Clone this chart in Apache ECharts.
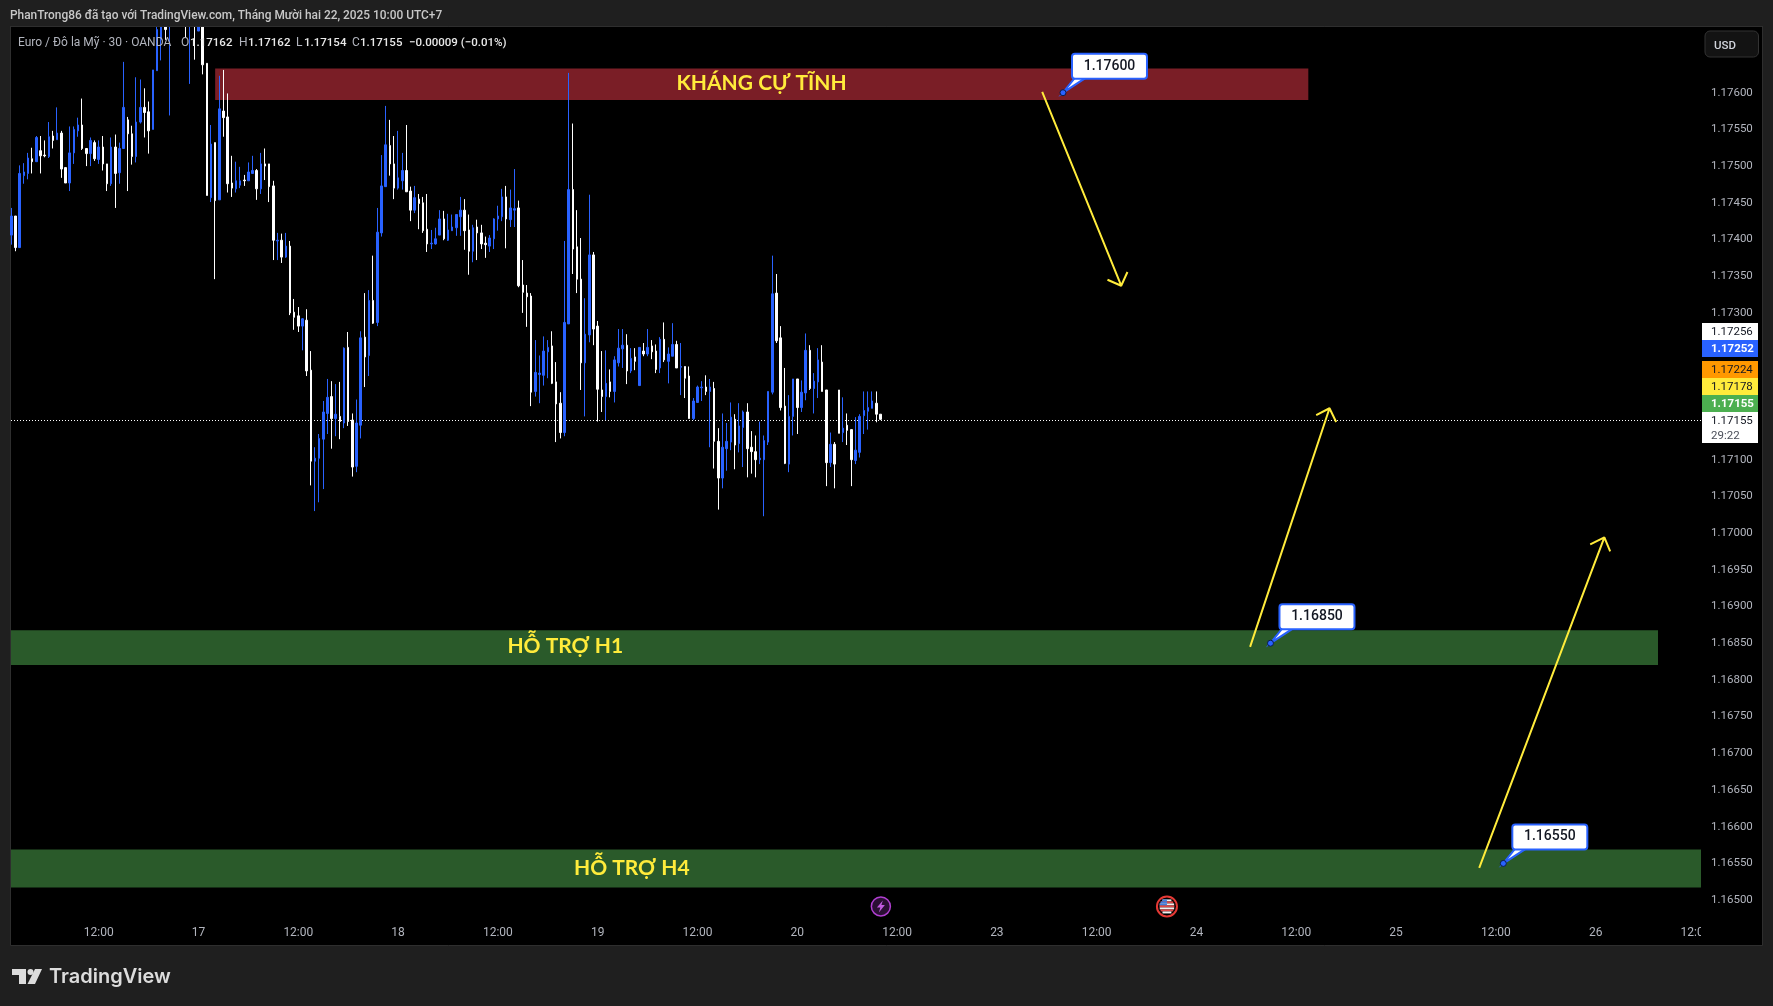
<!DOCTYPE html>
<html>
<head>
<meta charset="utf-8">
<title>Euro / Đô la Mỹ</title>
<script src="https://cdn.jsdelivr.net/npm/echarts@6/dist/echarts.min.js"></script>
<style>
  html, body { margin: 0; padding: 0; background: #1f1f1f; }
  #main { width: 1773px; height: 1006px; }
</style>
</head>
<body>
<div id="main"></div>
<script>
// 30 min candles. slot = half hours since Dec 16 00:00
var firstSlot = 3;
var opens = [
1.17406,1.17432,1.17389,1.17487,1.17490,1.17510,1.17506,1.17521,1.17515,1.17513,
1.17541,1.17536,1.17545,1.17498,1.17477,1.17518,1.17548,1.17556,1.17524,1.17517,
1.17532,1.17509,1.17526,1.17503,1.17476,1.17526,1.17491,1.17524,1.17563,1.17544,
1.17513,1.17560,1.17580,1.17574,1.17550,1.17630,1.17672,1.17690,1.17705,1.17725,
1.17740,1.17722,1.17715,1.17700,1.17715,1.17684,1.17705,1.17640,1.17457,1.17532,
1.17454,1.17575,1.17567,1.17477,1.17469,1.17474,1.17481,1.17480,1.17490,1.17494,
1.17469,1.17503,1.17503,1.17473,1.17398,1.17399,1.17376,1.17391,1.17301,1.17296,
1.17282,1.17290,1.17222,1.17098,1.17102,1.17128,1.17163,1.17186,1.17156,1.17159,
1.17150,1.17253,1.17154,1.17091,1.17147,1.17267,1.17242,1.17317,1.17287,1.17409,
1.17472,1.17528,1.17503,1.17470,1.17480,1.17494,1.17466,1.17440,1.17455,1.17450,
1.17414,1.17394,1.17394,1.17406,1.17428,1.17399,1.17412,1.17416,1.17431,1.17440,
1.17413,1.17384,1.17417,1.17409,1.17395,1.17391,1.17401,1.17428,1.17431,1.17458,
1.17427,1.17440,1.17443,1.17338,1.17327,1.17323,1.17193,1.17216,1.17215,1.17247,
1.17255,1.17206,1.17177,1.17137,1.17285,1.17468,1.17390,1.17346,1.17232,1.17270,
1.17379,1.17282,1.17195,1.17186,1.17206,1.17193,1.17232,1.17251,1.17256,1.17221,
1.17240,1.17201,1.17248,1.17244,1.17255,1.17248,1.17225,1.17264,1.17234,1.17241,
1.17257,1.17226,1.17227,1.17214,1.17156,1.17178,1.17198,1.17199,1.17193,1.17197,
1.17125,1.17075,1.17115,1.17124,1.17155,1.17122,1.17144,1.17165,1.17117,1.17111,
1.17100,1.17100,1.17124,1.17192,1.17327,1.17266,1.17173,1.17094,1.17159,1.17210,
1.17171,1.17191,1.17249,1.17197,1.17206,1.17233,1.17195,1.17096,1.17121,1.17195,
1.17137,1.17147,1.17141,1.17099,1.17110,1.17160,1.17166,1.17170,1.17177,1.17162
];
var closes = [
1.17432,1.17389,1.17490,1.17492,1.17511,1.17506,1.17539,1.17514,1.17514,1.17540,
1.17535,1.17545,1.17496,1.17477,1.17518,1.17550,1.17556,1.17524,1.17517,1.17535,
1.17510,1.17526,1.17503,1.17476,1.17526,1.17490,1.17524,1.17580,1.17544,1.17513,
1.17560,1.17580,1.17573,1.17548,1.17631,1.17686,1.17695,1.17686,1.17725,1.17740,
1.17722,1.17710,1.17700,1.17715,1.17700,1.17700,1.17638,1.17460,1.17530,1.17453,
1.17578,1.17566,1.17476,1.17470,1.17480,1.17480,1.17480,1.17492,1.17494,1.17469,
1.17503,1.17500,1.17472,1.17399,1.17399,1.17376,1.17391,1.17300,1.17294,1.17282,
1.17292,1.17221,1.17098,1.17102,1.17129,1.17165,1.17185,1.17156,1.17162,1.17152,
1.17252,1.17152,1.17090,1.17150,1.17266,1.17240,1.17317,1.17286,1.17410,1.17473,
1.17529,1.17503,1.17470,1.17484,1.17494,1.17465,1.17440,1.17457,1.17449,1.17412,
1.17394,1.17395,1.17401,1.17428,1.17401,1.17413,1.17417,1.17434,1.17440,1.17412,
1.17384,1.17416,1.17409,1.17394,1.17393,1.17402,1.17428,1.17432,1.17458,1.17428,
1.17443,1.17442,1.17337,1.17328,1.17322,1.17192,1.17219,1.17218,1.17248,1.17253,
1.17204,1.17176,1.17137,1.17287,1.17468,1.17387,1.17346,1.17232,1.17271,1.17379,
1.17278,1.17196,1.17186,1.17204,1.17193,1.17236,1.17252,1.17256,1.17221,1.17238,
1.17234,1.17253,1.17244,1.17253,1.17247,1.17223,1.17264,1.17236,1.17244,1.17257,
1.17225,1.17227,1.17211,1.17156,1.17180,1.17199,1.17199,1.17193,1.17199,1.17125,
1.17075,1.17117,1.17125,1.17158,1.17120,1.17146,1.17165,1.17115,1.17111,1.17100,
1.17102,1.17126,1.17193,1.17326,1.17262,1.17171,1.17095,1.17159,1.17210,1.17171,
1.17192,1.17249,1.17197,1.17207,1.17236,1.17193,1.17096,1.17121,1.17094,1.17136,
1.17143,1.17140,1.17100,1.17113,1.17159,1.17167,1.17171,1.17180,1.17162,1.17155
];
var lows = [
1.17393,1.17384,1.17389,1.17476,1.17482,1.17490,1.17506,1.17490,1.17512,1.17511,
1.17524,1.17536,1.17484,1.17477,1.17466,1.17503,1.17540,1.17522,1.17500,1.17500,
1.17507,1.17503,1.17494,1.17466,1.17473,1.17443,1.17476,1.17524,1.17466,1.17502,
1.17505,1.17558,1.17539,1.17517,1.17550,1.17630,1.17644,1.17672,1.17569,1.17705,
1.17715,1.17700,1.17675,1.17612,1.17645,1.17684,1.17625,1.17460,1.17451,1.17346,
1.17454,1.17540,1.17464,1.17458,1.17464,1.17470,1.17473,1.17480,1.17490,1.17454,
1.17462,1.17481,1.17451,1.17372,1.17372,1.17368,1.17375,1.17297,1.17277,1.17274,
1.17249,1.17214,1.17065,1.17030,1.17042,1.17060,1.17135,1.17115,1.17132,1.17128,
1.17143,1.17146,1.17077,1.17083,1.17129,1.17199,1.17214,1.17285,1.17282,1.17404,
1.17472,1.17487,1.17455,1.17468,1.17468,1.17465,1.17425,1.17436,1.17414,1.17409,
1.17383,1.17387,1.17393,1.17406,1.17399,1.17398,1.17412,1.17405,1.17405,1.17386,
1.17352,1.17369,1.17372,1.17387,1.17375,1.17383,1.17387,1.17412,1.17425,1.17388,
1.17417,1.17417,1.17335,1.17300,1.17281,1.17173,1.17186,1.17177,1.17201,1.17211,
1.17203,1.17124,1.17129,1.17132,1.17285,1.17353,1.17327,1.17195,1.17159,1.17260,
1.17256,1.17152,1.17165,1.17154,1.17185,1.17178,1.17227,1.17225,1.17203,1.17218,
1.17222,1.17201,1.17241,1.17241,1.17237,1.17218,1.17218,1.17233,1.17204,1.17241,
1.17225,1.17188,1.17184,1.17156,1.17154,1.17178,1.17180,1.17188,1.17117,1.17088,
1.17032,1.17061,1.17085,1.17113,1.17087,1.17110,1.17090,1.17076,1.17081,1.17076,
1.17094,1.17023,1.17120,1.17189,1.17259,1.17167,1.17094,1.17083,1.17133,1.17135,
1.17165,1.17181,1.17195,1.17163,1.17184,1.17193,1.17064,1.17090,1.17061,1.17136,
1.17124,1.17120,1.17064,1.17094,1.17103,1.17135,1.17141,1.17170,1.17151,1.17154
];
var highs = [
1.17443,1.17432,1.17501,1.17504,1.17518,1.17525,1.17541,1.17541,1.17535,1.17560,
1.17548,1.17580,1.17548,1.17498,1.17554,1.17554,1.17566,1.17592,1.17524,1.17539,
1.17535,1.17535,1.17541,1.17503,1.17539,1.17543,1.17532,1.17642,1.17567,1.17555,
1.17621,1.17618,1.17606,1.17588,1.17631,1.17700,1.17700,1.17697,1.17735,1.17750,
1.17750,1.17735,1.17725,1.17725,1.17722,1.17710,1.17712,1.17640,1.17556,1.17532,
1.17623,1.17631,1.17599,1.17514,1.17506,1.17499,1.17488,1.17505,1.17514,1.17496,
1.17518,1.17524,1.17503,1.17480,1.17409,1.17408,1.17409,1.17398,1.17319,1.17308,
1.17293,1.17305,1.17248,1.17117,1.17135,1.17180,1.17210,1.17207,1.17203,1.17206,
1.17253,1.17274,1.17163,1.17182,1.17275,1.17327,1.17331,1.17378,1.17443,1.17515,
1.17582,1.17563,1.17541,1.17548,1.17518,1.17556,1.17472,1.17473,1.17462,1.17458,
1.17462,1.17413,1.17416,1.17440,1.17439,1.17435,1.17434,1.17434,1.17458,1.17455,
1.17434,1.17420,1.17427,1.17420,1.17404,1.17406,1.17429,1.17446,1.17469,1.17473,
1.17468,1.17496,1.17453,1.17372,1.17338,1.17327,1.17263,1.17242,1.17268,1.17263,
1.17275,1.17233,1.17192,1.17398,1.17627,1.17558,1.17440,1.17402,1.17320,1.17461,
1.17383,1.17289,1.17248,1.17249,1.17223,1.17241,1.17278,1.17278,1.17271,1.17252,
1.17252,1.17253,1.17259,1.17278,1.17263,1.17257,1.17267,1.17287,1.17253,1.17286,
1.17262,1.17259,1.17227,1.17227,1.17184,1.17201,1.17207,1.17215,1.17210,1.17206,
1.17143,1.17163,1.17150,1.17178,1.17162,1.17177,1.17167,1.17177,1.17139,1.17133,
1.17152,1.17133,1.17193,1.17378,1.17353,1.17282,1.17225,1.17188,1.17210,1.17210,
1.17208,1.17272,1.17256,1.17218,1.17252,1.17256,1.17195,1.17137,1.17124,1.17195,
1.17185,1.17163,1.17141,1.17158,1.17162,1.17193,1.17193,1.17193,1.17193,1.17162
];

var priceTicks = [1.165,1.1655,1.166,1.1665,1.167,1.1675,1.168,1.1685,1.169,1.1695,1.17,
  1.1705,1.171,1.1715,1.172,1.1725,1.173,1.1735,1.174,1.1745,1.175,1.1755,1.176];
var timeTickSlots = [24,48,72,96,120,144,168,192,216,240,264,288,312,336,360,384,408];
var timeTickLabels = ['12:00','17','12:00','18','12:00','19','12:00','20','12:00','23','12:00','24','12:00','25','12:00','26','12:00'];

var xMin = 2.9, xMax = 409.34, yMin = 1.16477, yMax = 1.1769;
var lastPrice = 1.17155;

// zones: from slot, to slot, low, high
var zoneNames = ['resistance', 'h1', 'h4'];
var zoneFrom = [52, xMin, xMin];
var zoneTo = [314.9, 399, xMax];
var zoneLow = [1.1759, 1.168203, 1.165173];
var zoneHigh = [1.17633, 1.168676, 1.165688];
var zoneColors = ['#7a1e26', '#2a5a2a', '#2a5a2a'];

var zoneTexts = ['KHÁNG CỰ TĨNH', 'HỖ TRỢ H1', 'HỖ TRỢ H4'];
var zoneTextSlots = [183.4, 136.2, 152.2];
var zoneTextPrices = [1.17613, 1.16846, 1.16544];

var calloutSlots = [255.9, 305.8, 361.8];
var calloutPrices = [1.176, 1.1685, 1.1655];

// arrows as slot/price pairs: start, tip, head, tip, head
var arrowDown = [[250.9,1.17601],[269.9,1.17337],[266.6,1.173452],[269.9,1.17337],[271.4,1.173557]];
var arrowUpNear = [[300.9,1.168451],[320.0,1.171701],[316.8,1.171606],[320.0,1.171701],[321.6,1.171514]];
var arrowUpFar = [[356.0,1.165438],[386.1,1.169941],[382.7,1.169846],[386.1,1.169941],[387.5,1.16975]];

var eventSlots = [212.1, 280.9];
var eventPrice = 1.164914;

var tagTexts = ['1.17256','1.17252','1.17224','1.17178','1.17155','1.17155'];
var tagColors = ['#ffffff','#2962ff','#ff9800','#ffeb3b','#4caf50','#ffffff'];

var candleData = [];
for (var i = 0; i < opens.length; i++) {
  candleData.push([firstSlot + i, opens[i], closes[i], lows[i], highs[i]]);
}

var zoneData = [];
for (var z = 0; z < zoneNames.length; z++) {
  zoneData.push([zoneFrom[z], zoneTo[z], zoneLow[z], zoneHigh[z]]);
}

function renderZone(params, api) {
  var a = api.coord([api.value(0), api.value(3)]);
  var b = api.coord([api.value(1), api.value(2)]);
  return {
    type: 'rect',
    shape: { x: a[0], y: a[1], width: b[0] - a[0], height: b[1] - a[1] },
    style: { fill: zoneColors[params.dataIndex] }
  };
}

function renderZoneText(params, api) {
  var p = api.coord([api.value(0), api.value(1)]);
  return {
    type: 'text',
    x: p[0], y: p[1],
    style: {
      text: zoneTexts[params.dataIndex],
      fill: '#ffeb3b',
      font: 'bold 21px Lato, "Noto Sans", sans-serif',
      align: 'center',
      verticalAlign: 'middle'
    }
  };
}

function renderLastPrice(params, api) {
  var a = api.coord([api.value(0), api.value(2)]);
  var b = api.coord([api.value(1), api.value(2)]);
  var y = Math.ceil(a[1]) + 0.5;
  return {
    type: 'line',
    shape: { x1: a[0], y1: y, x2: b[0], y2: y },
    style: { stroke: '#ffffff', lineWidth: 1, lineDash: [1, 2] }
  };
}

function renderCallout(params, api) {
  var p = api.coord([api.value(0), api.value(1)]);
  var bx = p[0] + 9, by = p[1] - 39, bw = 75, bh = 25;
  return {
    type: 'group',
    children: [
      { type: 'polygon', shape: { points: [[p[0], p[1]], [bx + 3, by + bh - 1], [bx + 14, by + bh - 1]] },
        style: { fill: '#ffffff', stroke: '#2962ff', lineWidth: 2 } },
      { type: 'rect', shape: { x: bx, y: by, width: bw, height: bh, r: 3 },
        style: { fill: '#ffffff', stroke: '#2962ff', lineWidth: 2 } },
      { type: 'text', x: bx + bw / 2, y: by + bh / 2,
        style: { text: api.value(1).toFixed(5), fill: '#131722', font: '500 14px Roboto', align: 'center', verticalAlign: 'middle' } },
      { type: 'circle', shape: { cx: p[0], cy: p[1], r: 3 },
        style: { fill: '#2962ff', stroke: '#0b1c4d', lineWidth: 1 } }
    ]
  };
}

function renderEvent(params, api) {
  var p = api.coord([api.value(0), api.value(1)]);
  var cx = p[0], cy = p[1];
  if (params.dataIndex === 0) {
    return {
      type: 'group',
      children: [
        { type: 'circle', shape: { cx: cx, cy: cy, r: 9.5 }, style: { fill: '#2a0f33', stroke: '#b03fd0', lineWidth: 1.5 } },
        { type: 'polygon', shape: { points: [[cx + 2, cy - 6], [cx - 4, cy + 1], [cx - 0.5, cy + 1], [cx - 2, cy + 6], [cx + 4, cy - 1.5], [cx + 0.5, cy - 1.5]] },
          style: { fill: '#c25be0' } }
      ]
    };
  }
  var kids = [
    { type: 'circle', shape: { cx: cx, cy: cy, r: 10 }, style: { fill: '#000000', stroke: '#e53935', lineWidth: 2 } }
  ];
  for (var dy = -7; dy < 7; dy += 2) {
    var half = Math.sqrt(Math.max(0, 56 - (dy + 1) * (dy + 1)));
    kids.push({ type: 'rect', shape: { x: cx - half, y: cy + dy, width: half * 2, height: 2 },
      style: { fill: ((dy + 7) / 2) % 2 === 0 ? '#f0f0f0' : '#e04848' } });
    if (dy < -1) {
      kids.push({ type: 'rect', shape: { x: cx - half, y: cy + dy, width: half, height: 2 }, style: { fill: '#3f7fe0' } });
    }
  }
  return { type: 'group', children: kids };
}

function arrowSeries(path) {
  return {
    type: 'line', data: path, z: 3, symbol: 'none', silent: true, animation: false,
    lineStyle: { color: '#ffeb3b', width: 2 }
  };
}

function text(x, y, str, font, fill, extra) {
  var style = { text: str, font: font, fill: fill, verticalAlign: 'middle' };
  for (var k in extra) style[k] = extra[k];
  return { type: 'text', x: x, y: y, z: 10, style: style };
}

var uiFont = '11.5px Roboto';
var uiBold = '500 11.5px Roboto';
var grey = '#b2b5be';

var tagBoxes = [[323, 17], [340, 17], [361, 17], [378, 17], [395, 17], [412, 31]];
var tagFills = ['#131722', '#ffffff', '#131722', '#131722', '#ffffff', '#131722'];
var tagGraphics = [];
tagTexts.forEach(function (t, n) {
  tagGraphics.push({ type: 'rect', z: 9, shape: { x: 1702, y: tagBoxes[n][0], width: 56, height: tagBoxes[n][1] }, style: { fill: tagColors[n] } });
  var bold = n === 1 || n === 4;
  tagGraphics.push(text(1711, tagBoxes[n][0] + 9.5, t, bold ? 'bold 11.5px Roboto' : uiFont, tagFills[n]));
});
tagGraphics.push(text(1711, 436, '29:22', uiFont, '#4a4e59'));

var frame = [
  // black panel behind the plot
  { type: 'rect', z: -1, shape: { x: 10.5, y: 26.5, width: 1752, height: 919 }, style: { fill: '#000000', stroke: '#2e2e2e', lineWidth: 1 } },
  // header strip covers candles that run past the top of the pane
  { type: 'rect', z: 9, shape: { x: 0, y: 0, width: 1773, height: 26 }, style: { fill: '#1f1f1f' } },
  { type: 'line', z: 9, shape: { x1: 10, y1: 26.5, x2: 1763, y2: 26.5 }, style: { stroke: '#2e2e2e', lineWidth: 1 } },
  // hides the cut off end of the last time label
  { type: 'rect', z: 8, shape: { x: 1701, y: 920, width: 60, height: 25 }, style: { fill: '#000000' } },
  text(10, 16, 'PhanTrong86 đã tạo với TradingView.com, Tháng Mười hai 22, 2025 10:00 UTC+7', '500 11.9px Roboto', '#c8c8c8'),
  text(18, 43, 'Euro / Đô la Mỹ · 30 · OANDA', '12px Roboto', grey),
  text(181, 43, 'O', '12px Roboto', grey), text(190, 43, '1.17162', uiBold, '#e8e8e8'),
  text(239, 43, 'H', '12px Roboto', grey), text(248, 43, '1.17162', uiBold, '#e8e8e8'),
  text(296, 43, 'L', '12px Roboto', grey), text(304, 43, '1.17154', uiBold, '#e8e8e8'),
  text(352, 43, 'C', '12px Roboto', grey), text(360, 43, '1.17155', uiBold, '#e8e8e8'),
  text(409, 43, '−0.00009 (−0.01%)', uiBold, '#e8e8e8'),
  { type: 'rect', z: 9, shape: { x: 1705, y: 31, width: 53.5, height: 26, r: 5 }, style: { fill: '#131313', stroke: '#333333', lineWidth: 1 } },
  text(1714, 46, 'USD', uiBold, '#d1d4dc'),
  // logo
  { type: 'polygon', z: 10, shape: { points: [[12, 969], [26, 969], [26, 984], [19, 984], [19, 975], [12, 975]] }, style: { fill: '#dcdcdc' } },
  { type: 'circle', z: 10, shape: { cx: 30.5, cy: 972, r: 3 }, style: { fill: '#dcdcdc' } },
  { type: 'polygon', z: 10, shape: { points: [[35, 969], [42, 969], [35, 984], [27.5, 984]] }, style: { fill: '#dcdcdc' } },
  text(49, 977, 'TradingView', '600 20px Inter', '#dcdcdc')
].concat(tagGraphics);

var chart = echarts.init(document.getElementById('main'));
chart.setOption({
  animation: false,
  backgroundColor: '#1f1f1f',
  grid: { left: 11, right: 72, top: 26.64, height: 890.36 },
  xAxis: {
    type: 'value', min: xMin, max: xMax, splitLine: { show: false },
    axisLine: { show: false }, axisTick: { show: false },
    axisLabel: {
      customValues: timeTickSlots, color: grey, fontFamily: 'Roboto', fontSize: 12, margin: 10,
      formatter: function (v) { return timeTickLabels[timeTickSlots.indexOf(v)] || ''; }
    }
  },
  yAxis: {
    type: 'value', position: 'right', min: yMin, max: yMax, scale: true, splitLine: { show: false },
    axisLine: { show: false }, axisTick: { show: false },
    axisLabel: {
      customValues: priceTicks, color: grey, fontFamily: 'Roboto', fontSize: 11.5, margin: 10, padding: [4, 0, 0, 0],
      formatter: function (v) { return v.toFixed(5); }
    }
  },
  graphic: { elements: frame },
  series: [
    { type: 'custom', z: 1, data: zoneData, encode: { x: [0, 1], y: [2, 3] }, renderItem: renderZone, silent: true },
    { type: 'custom', z: 1, data: [[xMin, xMax, lastPrice]], renderItem: renderLastPrice, silent: true },
    {
      type: 'candlestick', z: 2, data: candleData, barWidth: 2, clip: true, encode: { x: 0, y: [1, 2, 3, 4] },
      itemStyle: { color: '#2962ff', color0: '#ffffff', borderColor: '#2962ff', borderColor0: '#ffffff', borderWidth: 1 }
    },
    arrowSeries(arrowDown),
    arrowSeries(arrowUpNear),
    arrowSeries(arrowUpFar),
    { type: 'custom', z: 4, data: zoneTextSlots.map(function (s, n) { return [s, zoneTextPrices[n]]; }), renderItem: renderZoneText, silent: true },
    { type: 'custom', z: 4, data: calloutSlots.map(function (s, n) { return [s, calloutPrices[n]]; }), renderItem: renderCallout, silent: true },
    { type: 'custom', z: 4, data: eventSlots.map(function (s) { return [s, eventPrice]; }), renderItem: renderEvent, silent: true }
  ]
});
</script>
</body>
</html>
